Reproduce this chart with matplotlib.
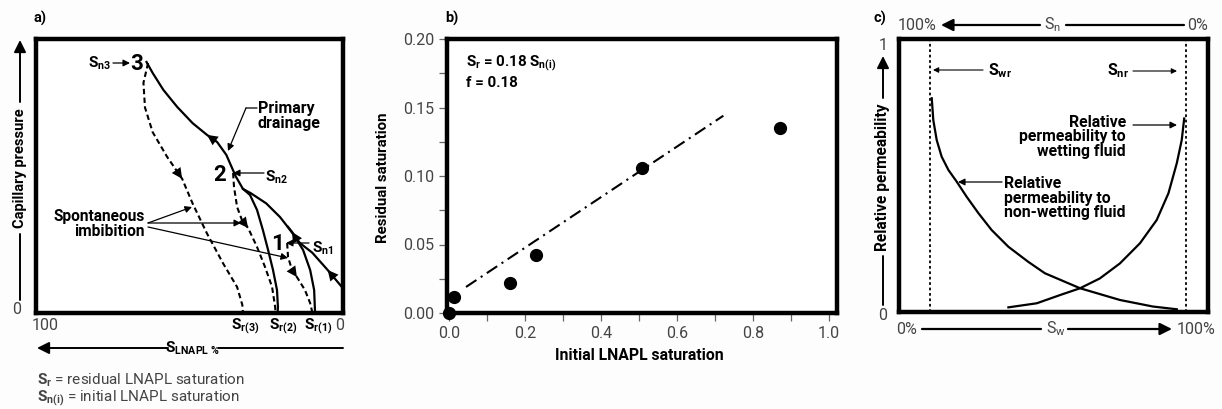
import matplotlib.pyplot as plt
from matplotlib.ticker import MultipleLocator

plt.rcParams['font.family'] = ['Roboto', 'DejaVu Sans']
plt.rcParams['mathtext.fontset'] = 'custom'
plt.rcParams['mathtext.rm'] = 'Roboto'
plt.rcParams['mathtext.bf'] = 'Roboto:bold'
plt.rcParams['mathtext.it'] = 'Roboto:italic'

# ---- panel a: capillary pressure vs LNAPL saturation (%), y in relative units
pd_x = [0, 5, 10, 14, 18, 20.5, 25, 30, 32.6, 35, 38, 41, 44.3, 49, 54, 58.5, 62, 64]
pd_y = [0.09, 0.157, 0.22, 0.255, 0.314, 0.35, 0.40, 0.437, 0.453, 0.50, 0.577, 0.624, 0.65, 0.693, 0.752, 0.814, 0.876, 0.916]
sd2_x = [21.3, 21.2, 21.5, 22.8, 24.4, 26.1, 28, 30.3, 32.6]
sd2_y = [0.0, 0.022, 0.084, 0.157, 0.23, 0.303, 0.376, 0.431, 0.453]
sd1_x = [9.1, 9.4, 10.7, 13.0, 15.0, 16.6, 17.9]
sd1_y = [0.0, 0.084, 0.157, 0.23, 0.266, 0.296, 0.314]
im3_x = [63.5, 65, 64.5, 62, 57.3, 52.4, 49, 44.3, 39, 34.5, 32.8, 32.6]
im3_y = [0.912, 0.84, 0.75, 0.66, 0.57, 0.49, 0.40, 0.29, 0.18, 0.095, 0.03, 0.0]
im2_x = [35.8, 35.5, 34.5, 32.9, 30.9, 28.0, 25.4, 23.1, 22.1, 22.0]
im2_y = [0.511, 0.46, 0.387, 0.339, 0.31, 0.241, 0.168, 0.095, 0.022, 0.0]
im1_x = [18.2, 17.9, 16.6, 15.0, 12.4, 10.7, 10.1, 10.0]
im1_y = [0.255, 0.204, 0.157, 0.131, 0.084, 0.036, 0.007, 0.0]

# ---- panel b: residual vs initial LNAPL saturation
sn_init = [0.0, 0.013, 0.162, 0.229, 0.508, 0.871]
s_res = [0.0, 0.012, 0.022, 0.042, 0.106, 0.135]
fit_x = [0.045, 0.722]
fit_y = [0.019, 0.144]
b_yticks = [0.0, 0.05, 0.10, 0.15, 0.20]
b_xticks = [0.0, 0.2, 0.4, 0.6, 0.8, 1.0]

# ---- panel c: relative permeability curves
nw_x = [0.106, 0.111, 0.122, 0.138, 0.160, 0.187, 0.219, 0.257, 0.300, 0.354, 0.418, 0.472, 0.586, 0.715, 0.822, 0.899]
nw_y = [0.783, 0.703, 0.630, 0.569, 0.520, 0.477, 0.422, 0.362, 0.300, 0.239, 0.184, 0.142, 0.087, 0.044, 0.020, 0.010]
w_x = [0.354, 0.446, 0.521, 0.586, 0.650, 0.715, 0.780, 0.834, 0.872, 0.899, 0.915, 0.923]
w_y = [0.017, 0.032, 0.062, 0.087, 0.123, 0.178, 0.252, 0.337, 0.435, 0.545, 0.630, 0.709]
swr, snr = 0.1, 0.929

W, H = 1222, 409
fig = plt.figure(figsize=(W / 100, H / 100), dpi=100)
fig.patch.set_facecolor('#fdfdfd')

GREY = '#444444'


def box(l, t, r, b):
    return [l / W, 1 - b / H, (r - l) / W, (b - t) / H]


def txt(x, y, s, size=11, weight='bold', ha='center', color='k', **kw):
    fig.text(x / W, 1 - y / H, s, fontsize=size, fontweight=weight, ha=ha, va='center', color=color, **kw)


def num(x, y, s, ha='center'):
    txt(x, y, s, size=11.5, weight='normal', ha=ha, color=GREY)


def arrow(ax, x0, y0, x1, y1, lw=1.0, head=10, style='-|>'):
    ax.annotate('', xy=(x1, H - y1), xytext=(x0, H - y0), xycoords='figure pixels',
                textcoords='figure pixels',
                arrowprops=dict(arrowstyle=style, color='k', lw=lw, mutation_scale=head,
                                shrinkA=0, shrinkB=0))


def head(ax, xs, ys, i, size=19):
    ax.annotate('', xy=(xs[i], ys[i]), xytext=(xs[i - 1], ys[i - 1]),
                arrowprops=dict(arrowstyle='-|>', color='k', lw=0, mutation_scale=size,
                                shrinkA=0, shrinkB=0))


# ================= a)
ax1 = fig.add_axes(box(36, 39, 343, 313))
ax1.set_xlim(100, 0)
ax1.set_ylim(0, 1)
ax1.set_xticks([])
ax1.set_yticks([])
for s in ax1.spines.values():
    s.set_linewidth(3.2)
ax1.plot(pd_x, pd_y, 'k-', lw=1.6)
ax1.plot(sd2_x, sd2_y, 'k-', lw=1.6)
ax1.plot(sd1_x, sd1_y, 'k-', lw=1.6)
for xs, ys in [(im3_x, im3_y), (im2_x, im2_y), (im1_x, im1_y)]:
    ax1.plot(xs, ys, 'k-', lw=1.5, dashes=(2.6, 1.6))
head(ax1, pd_x, pd_y, 1)
head(ax1, pd_x, pd_y, 12)
head(ax1, sd1_x, sd1_y, 5)
head(ax1, im3_x, im3_y, 5)
head(ax1, im2_x, im2_y, 4)
head(ax1, im1_x, im1_y, 3)

txt(40, 18, 'a)', size=10.5)
txt(137, 64, '3', size=16)
txt(100, 63, r'$\mathbf{S}_{\mathbf{n3}}$', size=11)
arrow(ax1, 113, 63, 130, 63, lw=0.9)
txt(220, 175, '2', size=16)
txt(277, 177, r'$\mathbf{S}_{\mathbf{n2}}$', size=11)
arrow(ax1, 264, 173, 233, 173, lw=0.9)
txt(278, 244, '1', size=16)
txt(323, 248, r'$\mathbf{S}_{\mathbf{n1}}$', size=11)
arrow(ax1, 309, 243, 286, 243, lw=0.9)
txt(258, 116, 'Primary\ndrainage', size=11.5, ha='left', linespacing=0.95)
arrow(ax1, 257, 108, 246, 108, lw=0.9, style='-')
arrow(ax1, 246, 108, 228, 151, lw=0.9)
txt(145, 224, 'Spontaneous\nimbibition', size=11.2, ha='right', linespacing=0.95, multialignment='right')
arrow(ax1, 148, 223, 192, 207, lw=0.9)
arrow(ax1, 148, 223, 241, 223, lw=0.9)
arrow(ax1, 148, 227, 288, 258, lw=0.9)

txt(20, 168, 'Capillary pressure', size=10.5, rotation=90)
arrow(ax1, 20, 300, 20, 234, lw=1.4, style='-')
arrow(ax1, 20, 102, 20, 40, lw=1.4, head=18)
num(17, 310, '0')
num(45, 325, '100')
num(340, 325, '0')
txt(245, 326, r'$\mathbf{S}_{\mathbf{r(3)}}$', size=11)
txt(283, 326, r'$\mathbf{S}_{\mathbf{r(2)}}$', size=11)
txt(318, 326, r'$\mathbf{S}_{\mathbf{r(1)}}$', size=11)
txt(193, 348, r'$\mathbf{S}_{\mathbf{LNAPL\ \%}}$', size=11)
arrow(ax1, 168, 348, 37, 348, lw=1.4, head=18)
arrow(ax1, 218, 348, 343, 348, lw=1.4, style='-')
txt(37, 380, r'$\mathbf{S}_{\mathbf{r}}$ = residual LNAPL saturation', size=11, weight='normal', ha='left', color=GREY)
txt(37, 398, r'$\mathbf{S}_{\mathbf{n(i)}}$ = initial LNAPL saturation', size=11, weight='normal', ha='left', color=GREY)

# ================= b)
ax2 = fig.add_axes(box(447, 39, 837, 313))
ax2.set_xlim(-0.005, 1.021)
ax2.set_ylim(0, 0.2)
for s in ax2.spines.values():
    s.set_linewidth(3.2)
ax2.plot(fit_x, fit_y, color='k', lw=1.5, linestyle=(0, (6, 2.5, 1, 2.5)))
ax2.plot(sn_init, s_res, 'o', color='k', ms=8.5, clip_on=False, zorder=5)
ax2.set_yticks(b_yticks)
ax2.set_yticklabels([f'{v:.2f}' for v in b_yticks])
ax2.set_xticks(b_xticks)
ax2.set_xticklabels([f'{v:.1f}' for v in b_xticks])
ax2.yaxis.set_minor_locator(MultipleLocator(0.025))
ax2.xaxis.set_minor_locator(MultipleLocator(0.1))
ax2.tick_params(which='both', direction='out', length=6, width=0.9, color='#666666',
                labelsize=11.5, labelcolor=GREY, pad=3)
txt(466, 63, r'$\mathbf{S}_{\mathbf{r}}$ = 0.18 $\mathbf{S}_{\mathbf{n(i)}}$', size=10.8, ha='left')
txt(466, 83, 'f = 0.18', size=10.8, ha='left')
txt(452, 18, 'b)', size=10.5)
txt(383, 178, 'Residual saturation', size=10.8, rotation=90)
txt(639, 356, 'Initial LNAPL saturation', size=11.3)

# ================= c)
ax3 = fig.add_axes(box(899, 39, 1208, 312))
ax3.set_xlim(0, 1)
ax3.set_ylim(0, 1)
ax3.set_xticks([])
ax3.set_yticks([])
for s in ax3.spines.values():
    s.set_linewidth(3.2)
ax3.plot(nw_x, nw_y, 'k-', lw=1.6)
ax3.plot(w_x, w_y, 'k-', lw=1.6)
ax3.axvline(swr, color='k', lw=1.3, dashes=(1.5, 1.5))
ax3.axvline(snr, color='k', lw=1.3, dashes=(1.5, 1.5))

txt(880, 18, 'c)', size=10.5)
num(917, 25, '100%')
arrow(ax3, 1040, 25, 941, 25, lw=1.6, head=18)
num(1053, 25, r'S$_\mathrm{n}$')
arrow(ax3, 1066, 25, 1184, 25, lw=1.6, style='-')
num(1198, 25, '0%')
num(907, 329, '0%')
arrow(ax3, 922, 329, 1041, 329, lw=1.6, style='-')
num(1056, 329, r'S$_\mathrm{w}$')
arrow(ax3, 1068, 329, 1172, 329, lw=1.6, head=18)
num(1196, 329, '100%')
num(883, 45, '1')
num(883, 315, '0')
txt(883, 177, 'Relative permeability', size=11.2, rotation=90)
arrow(ax3, 883, 305, 883, 256, lw=1.4, style='-')
arrow(ax3, 883, 98, 883, 56, lw=1.4, head=18)

txt(1000, 71, r'$\mathbf{S}_{\mathbf{wr}}$', size=11.5)
arrow(ax3, 983, 70, 933, 70, lw=0.8, head=8)
txt(1118, 71, r'$\mathbf{S}_{\mathbf{nr}}$', size=11.5)
arrow(ax3, 1133, 71, 1177, 71, lw=0.8, head=8)
txt(1126, 137, 'Relative\npermeability to\nwetting fluid', size=11.3, ha='right',
    multialignment='right', linespacing=0.92)
arrow(ax3, 1133, 125, 1177, 125, lw=0.9)
txt(1004, 198, 'Relative\npermeability to\nnon-wetting fluid', size=11.3, ha='left',
    multialignment='left', linespacing=0.92)
arrow(ax3, 1002, 182, 958, 182, lw=0.9)

fig.savefig('out.png', dpi=100, facecolor=fig.get_facecolor())
